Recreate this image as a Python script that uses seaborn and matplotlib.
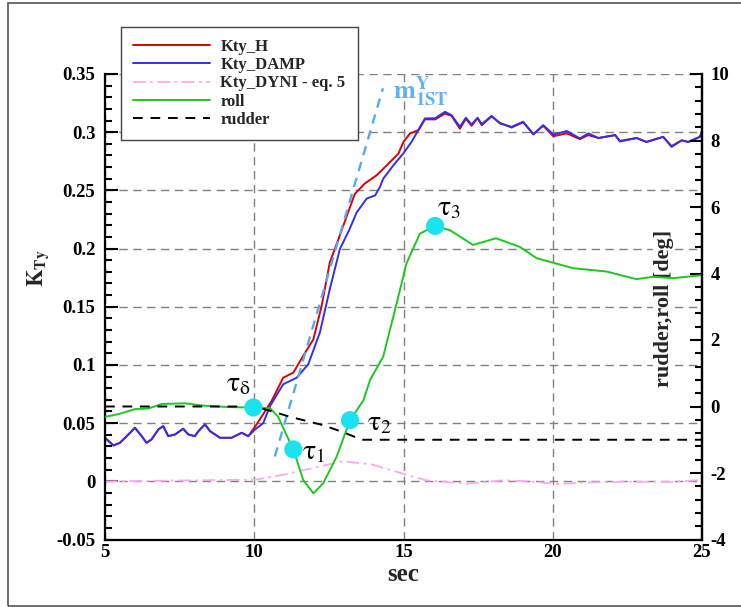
import matplotlib
matplotlib.use("Agg")
import matplotlib.pyplot as plt
import seaborn as sns
import numpy as np
import pandas as pd
from matplotlib.ticker import MultipleLocator, FuncFormatter
from matplotlib.patches import Rectangle

# ---------------- data ----------------
t_damp = [5.0, 5.28, 5.5, 5.84, 6.0, 6.23, 6.39, 6.56, 6.79, 6.95, 7.12, 7.35, 7.62, 7.79,
          8.01, 8.13, 8.35, 8.52, 8.85, 9.24, 9.58, 9.8, 10.03, 10.3, 10.53, 10.97, 11.42,
          11.81, 12.2, 12.53, 12.87, 13.2, 13.43, 13.77, 14.05, 14.21, 14.32, 14.66, 14.99,
          15.27, 15.5, 15.72, 16.06, 16.39, 16.61, 16.89, 17.09, 17.28, 17.48, 17.62, 17.95,
          18.23, 18.62, 19.01, 19.35, 19.68, 20.02, 20.47, 20.91, 21.19, 21.53, 22.09, 22.25,
          22.81, 23.14, 23.7, 23.98, 24.32, 24.54, 24.93, 25.0]
k_damp = [0.0374, 0.0308, 0.0331, 0.0417, 0.046, 0.0388, 0.0331, 0.036, 0.0446, 0.0474,
          0.0388, 0.0403, 0.0452, 0.0403, 0.0388, 0.0431, 0.0489, 0.0431, 0.0374, 0.0374,
          0.0417, 0.0388, 0.0446, 0.050, 0.0647, 0.0834, 0.089, 0.1006, 0.128, 0.165, 0.1997,
          0.217, 0.231, 0.243, 0.2457, 0.2529, 0.26, 0.2715, 0.2816, 0.2917, 0.302, 0.3118,
          0.312, 0.3175, 0.3146, 0.3046, 0.3124, 0.3066, 0.3124, 0.3069, 0.314, 0.3075, 0.3046,
          0.309, 0.298, 0.306, 0.298, 0.301, 0.2946, 0.299, 0.295, 0.2975, 0.292, 0.295,
          0.2917, 0.296, 0.2874, 0.293, 0.2917, 0.296, 0.301]

t_h = [5.0, 5.28, 5.5, 5.84, 6.0, 6.23, 6.39, 6.56, 6.79, 6.95, 7.12, 7.35, 7.62, 7.79,
       8.01, 8.13, 8.35, 8.52, 8.85, 9.24, 9.58, 9.8, 10.08, 10.58, 10.97, 11.31, 11.64,
       11.98, 12.26, 12.53, 12.82, 13.1, 13.37, 13.71, 14.1, 14.44, 14.83, 15.0, 15.22,
       15.5, 15.72, 16.06, 16.39, 16.61, 16.89, 17.09, 17.28, 17.48, 17.62, 17.95, 18.23,
       18.62, 19.01, 19.35, 19.68, 20.02, 20.47, 20.91, 21.19, 21.53, 22.09, 22.25, 22.81,
       23.14, 23.7, 23.98, 24.32, 24.54, 24.93, 25.0]
k_h = [0.0374, 0.0308, 0.0331, 0.0417, 0.046, 0.0388, 0.0331, 0.036, 0.0446, 0.0474,
       0.0388, 0.0403, 0.0452, 0.0403, 0.0388, 0.0431, 0.0489, 0.0431, 0.0374, 0.0374,
       0.0417, 0.0388, 0.0489, 0.069, 0.089, 0.0934, 0.1078, 0.122, 0.151, 0.188, 0.208,
       0.228, 0.247, 0.256, 0.263, 0.2715, 0.2816, 0.2917, 0.299, 0.3017, 0.311, 0.311,
       0.316, 0.314, 0.303, 0.3115, 0.3055, 0.312, 0.306, 0.3135, 0.308, 0.304, 0.3085,
       0.2985, 0.3055, 0.2965, 0.299, 0.294, 0.2975, 0.295, 0.2975, 0.2925, 0.295, 0.2915,
       0.296, 0.288, 0.293, 0.2915, 0.296, 0.301]

t_dyni = [5.0, 10.05, 11.0, 12.0, 12.97, 13.94, 14.9, 15.75, 17.07, 18.4, 19.2, 20.2,
          21.2, 22.6, 24.0, 25.0]
k_dyni = [0.0, 0.0014, 0.0058, 0.0116, 0.0173, 0.0145, 0.0072, 0.0009, -0.002, 0.0009,
          0.0, -0.0023, -0.0009, -0.0003, -0.0006, 0.0014]

t_roll = [5.0, 5.45, 6.0, 6.45, 6.9, 7.68, 8.35, 9.24, 9.97, 10.53, 10.8, 11.03, 11.31,
          11.64, 11.98, 12.31, 12.76, 13.21, 13.66, 13.88, 14.32, 14.77, 15.1, 15.55, 16.06,
          16.56, 17.33, 18.1, 18.9, 19.46, 20.68, 21.8, 22.8, 23.36, 24.04, 25.0]
roll = [-0.31, -0.23, -0.08, -0.06, 0.075, 0.096, 0.02, -0.02, -0.03, -0.05, -0.31, -0.76,
        -1.29, -2.21, -2.61, -2.31, -1.51, -0.41, 0.19, 0.8, 1.5, 3.1, 4.3, 5.2, 5.43, 5.3,
        4.86, 5.06, 4.8, 4.46, 4.16, 4.06, 3.83, 3.9, 3.86, 3.95]

t_rudder = [5.0, 10.0, 10.5, 11.2, 12.3, 13.0, 13.6, 25.0]
rudder = [0.0, 0.0, -0.12, -0.31, -0.56, -0.78, -1.0, -1.0]

t_slope = [10.69, 14.31]
k_slope = [0.0213, 0.3377]

tau_t = [9.97, 11.31, 13.21, 16.06]
tau_roll = [-0.03, -1.29, -0.41, 5.43]
tau_labels = [r"$\mathrm{\tau}_{\mathrm{\delta}}$", r"$\mathrm{\tau}_{1}$",
              r"$\mathrm{\tau}_{2}$", r"$\mathrm{\tau}_{3}$"]

# ---------------- style ----------------
sns.set_style("white")
plt.rcParams["font.family"] = ["Liberation Serif", "DejaVu Serif"]
plt.rcParams["mathtext.fontset"] = "stix"

W, H = 741, 607
fig = plt.figure(figsize=(W / 100, H / 100), dpi=100)
L, R, T, B = 105, 702, 74, 539.5
ax = fig.add_axes([L / W, 1 - B / H, (R - L) / W, (B - T) / H])
ax2 = ax.twinx()

# left-axis series
sns.lineplot(x=t_h, y=k_h, ax=ax, color="#e00000", lw=1.4, estimator=None, sort=False,
             label="Kty_H", legend=False)
sns.lineplot(x=t_damp, y=k_damp, ax=ax, color="#3030ee", lw=1.4, estimator=None, sort=False,
             label="Kty_DAMP", legend=False)
sns.lineplot(x=t_dyni, y=k_dyni, ax=ax, color="#ffa8f2", lw=1.3, estimator=None, sort=False,
             label="Kty_DYNI - eq. 5", legend=False)
sns.lineplot(x=t_slope, y=k_slope, ax=ax, color="#5aa8f0", lw=1.7, estimator=None, sort=False,
             legend=False)
lines = ax.get_lines()
h_red, h_blue, h_pink, h_slope = lines[0], lines[1], lines[2], lines[3]
h_pink.set_dashes((7, 2.5, 1.5, 2.5))
h_slope.set_dashes((4, 3))

# right-axis series
sns.lineplot(x=t_roll, y=roll, ax=ax2, color="#1ec81e", lw=1.4, estimator=None, sort=False,
             label="roll", legend=False)
sns.lineplot(x=t_rudder, y=rudder, ax=ax2, color="black", lw=1.4, estimator=None, sort=False,
             label="rudder", legend=False)
lines2 = ax2.get_lines()
h_roll, h_rud = lines2[0], lines2[1]
h_rud.set_dashes((5, 4))

sns.scatterplot(x=tau_t, y=tau_roll, ax=ax2, s=170, color="#19e3ee", edgecolor="none",
                zorder=5, legend=False)
offsets = [(-27, 23), (9, -4), (17, -4), (2, 17)]
for tt, rr, lab, (dx, dy) in zip(tau_t, tau_roll, tau_labels, offsets):
    ax2.annotate(lab, xy=(tt, rr), xytext=(dx * 0.72, dy * 0.72), textcoords="offset points",
                 fontsize=20, ha="left", va="center", color="black")

ax.text(14.65, 0.329, r"$\mathbf{m}^{\mathbf{Y}}_{\mathbf{1ST}}$", color="#5eb2f7",
        fontsize=19, ha="left", va="baseline")

# axes limits / ticks
ax.set_xlim(5, 25)
ax.set_ylim(-0.05, 0.35)
ax2.set_ylim(-4, 10)
ax.xaxis.set_major_locator(MultipleLocator(5))
ax.xaxis.set_minor_locator(MultipleLocator(1))
ax.yaxis.set_major_locator(MultipleLocator(0.05))
ax.yaxis.set_minor_locator(MultipleLocator(0.01))
ax2.yaxis.set_major_locator(MultipleLocator(2))
ax2.yaxis.set_minor_locator(MultipleLocator(0.4))
ax.yaxis.set_major_formatter(FuncFormatter(lambda v, p: f"{round(v, 4) + 0:g}"))
ax2.yaxis.set_major_formatter(FuncFormatter(lambda v, p: f"{round(v, 4) + 0:g}"))

ax.tick_params(which="both", direction="in", top=False, right=False, width=1.5,
               labelsize=13.5, colors="black")
ax.tick_params(which="major", length=9)
ax.tick_params(which="minor", length=5)
ax.tick_params(axis="y", pad=7)
ax.tick_params(axis="x", pad=3)
ax2.tick_params(which="both", direction="in", left=False, right=True, width=1.5,
                labelsize=13.5, colors="black", pad=6)
ax2.tick_params(which="major", length=9)
ax2.tick_params(which="minor", length=5)
for lab in ax.get_xticklabels() + ax.get_yticklabels() + ax2.get_yticklabels():
    lab.set_fontweight("bold")

for a in (ax, ax2):
    a.spines["top"].set_visible(False)
    for s in ("left", "right", "bottom"):
        a.spines[s].set_linewidth(1.6)
        a.spines[s].set_color("black")
ax2.spines["left"].set_visible(False)
ax2.spines["bottom"].set_visible(False)

# grid
ax.grid(True, which="major", axis="both", color="#808080", lw=1.0, linestyle=(0, (6, 4)))
ax.set_axisbelow(True)

# labels
ax.set_xlabel("sec", fontsize=18, fontweight="bold")
ax.xaxis.set_label_coords(0.5, -0.05)
ax.set_ylabel(r"$\mathbf{K_{Ty}}$", fontsize=16)
ax.yaxis.set_label_coords(-0.09, 0.583)
ax2.set_ylabel("rudder,roll [deg]", fontsize=16, fontweight="bold", rotation=90,
               bbox=dict(facecolor="white", edgecolor="none", pad=1))
ax2.yaxis.set_label_coords((654 - L) / (R - L), (B - 308) / (B - T))

# legend
leg = ax2.legend(handles=[h_red, h_blue, h_pink, h_roll, h_rud],
                 labels=["Kty_H", "Kty_DAMP", "Kty_DYNI - eq. 5", "roll", "rudder"],
                 loc="upper left", bbox_to_anchor=(121 / W, 1 - 27 / H),
                 bbox_transform=fig.transFigure, borderaxespad=0, frameon=True,
                 fancybox=False, framealpha=1, edgecolor="#444444", handlelength=4.6,
                 handletextpad=0.65, borderpad=0.72, labelspacing=0.13,
                 prop={"family": "Liberation Serif", "weight": "bold", "size": 12.0})
leg.get_frame().set_linewidth(1.0)
leg.set_zorder(10)

# outer frame
fig.patches.append(Rectangle((8 / W, 1 - 606 / H), 1.0, (606 - 3) / H,
                             transform=fig.transFigure, fill=False,
                             edgecolor="#555555", lw=1.2))

fig.savefig("out.png", dpi=100)
